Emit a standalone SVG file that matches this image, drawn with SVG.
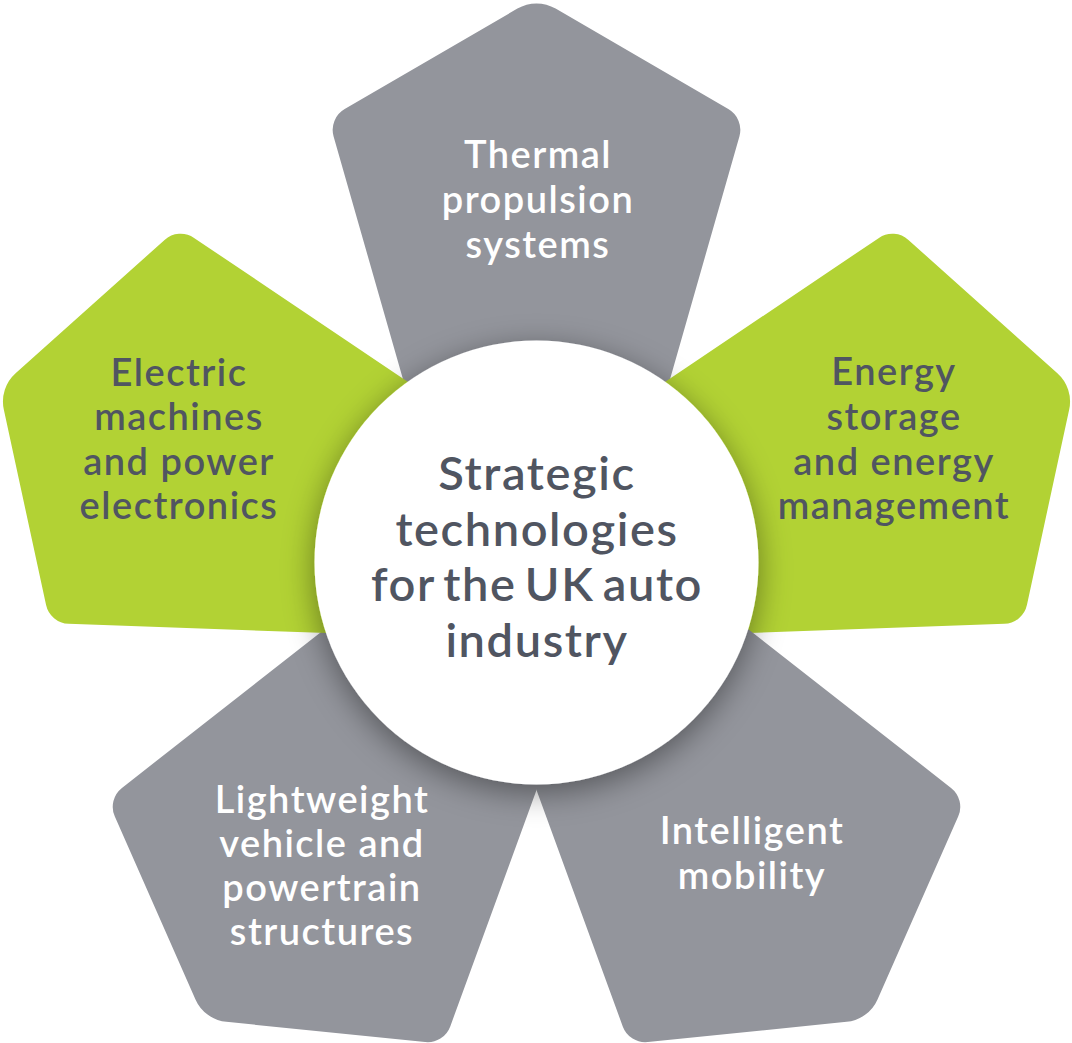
<svg xmlns="http://www.w3.org/2000/svg" xmlns:xlink="http://www.w3.org/1999/xlink" width="1072" height="1043" viewBox="0 0 1072 1043">
  <style>
    .gray { fill: #93959c; }
    .green { fill: #b2d234; }
    .lbl { font-family: Lato, "Open Sans", "Liberation Sans", sans-serif; font-weight: 600; font-size: 38px; letter-spacing: 1.5px; text-anchor: middle; }
    .light { fill: #ffffff; }
    .dark { fill: #505561; }
    .hub { font-family: Lato, "Open Sans", "Liberation Sans", sans-serif; font-weight: 600; font-size: 47px; letter-spacing: 1.6px; word-spacing: -5px; text-anchor: middle; fill: #505561; }
  </style>
  <defs>
    <path id="petal" d="M -19.1,-553.9 A 38 38 0 0 1 19.1,-553.9 L 191.8,-453.4 A 24 24 0 0 1 202.9,-426 L 116,-122 L -116,-122 L -202.9,-426 A 24 24 0 0 1 -191.8,-453.4 Z"/>
    <filter id="shadow" x="-30%" y="-30%" width="160%" height="160%">
      <feDropShadow dx="0" dy="8" stdDeviation="16" flood-color="#000000" flood-opacity="0.42"/>
    </filter>
  </defs>
  <rect width="1072" height="1043" fill="#ffffff"/>

  <g id="node-thermal">
    <use xlink:href="#petal" class="gray" transform="translate(536.5 562.5)"/>
    <text class="lbl light"><tspan x="538" y="168">Thermal</tspan><tspan x="538" y="213">propulsion</tspan><tspan x="538" y="258">systems</tspan></text>
  </g>
  <g id="node-energy">
    <use xlink:href="#petal" class="green" transform="translate(536.5 562.5) rotate(72)"/>
    <text class="lbl dark"><tspan x="894" y="385">Energy</tspan><tspan x="894" y="430">storage</tspan><tspan x="894" y="475">and energy</tspan><tspan x="894" y="519">management</tspan></text>
  </g>
  <g id="node-mobility">
    <use xlink:href="#petal" class="gray" transform="translate(536.5 562.5) rotate(144)"/>
    <text class="lbl light"><tspan x="752" y="844">Intelligent</tspan><tspan x="752" y="889">mobility</tspan></text>
  </g>
  <g id="node-lightweight">
    <use xlink:href="#petal" class="gray" transform="translate(536.5 562.5) rotate(216)"/>
    <text class="lbl light"><tspan x="322" y="813">Lightweight</tspan><tspan x="322" y="857">vehicle and</tspan><tspan x="322" y="901">powertrain</tspan><tspan x="322" y="945">structures</tspan></text>
  </g>
  <g id="node-electric">
    <use xlink:href="#petal" class="green" transform="translate(536.5 562.5) rotate(288)"/>
    <text class="lbl dark"><tspan x="179" y="386">Electric</tspan><tspan x="179" y="430">machines</tspan><tspan x="179" y="475">and power</tspan><tspan x="179" y="519">electronics</tspan></text>
  </g>

  <g id="connectors"></g>

  <g id="node-hub">
    <circle cx="536.5" cy="562.5" r="222" fill="#ffffff" filter="url(#shadow)"/>
    <text class="hub"><tspan x="537" y="490">Strategic</tspan><tspan x="537" y="545.5">technologies</tspan><tspan x="537" y="601">for the UK auto</tspan><tspan x="537" y="656.5">industry</tspan></text>
  </g>
</svg>
